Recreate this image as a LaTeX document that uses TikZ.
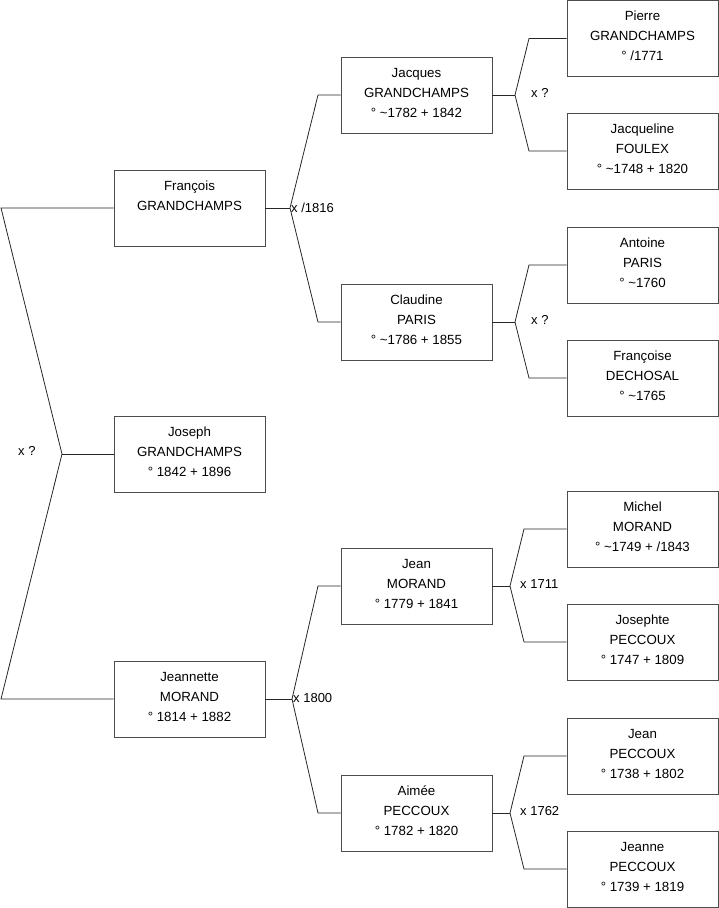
\documentclass[tikz,border=0pt]{standalone}
\usepackage{fontspec}
\setmainfont{Liberation Sans}
\newcommand{\person}[3]{\strut #1\\\strut #2\\\rule[-10pt]{0pt}{10pt}#3}
\begin{document}
\begin{tikzpicture}[x=1pt,y=-1pt,
  pbox/.style={draw=black!70,line width=0.9pt,minimum width=151pt,minimum height=76pt,inner sep=0pt,align=center,font=\fontsize{13.3}{20}\selectfont},
  link/.style={draw=black!85,line width=0.8pt},
  mlabel/.style={anchor=west,inner sep=0pt,font=\fontsize{13}{15}\selectfont}]
\useasboundingbox (0,0) rectangle (719,908);
% column 1
\node[pbox] (fr) at (189.5,208) {\person{François}{GRANDCHAMPS}{}};
\node[pbox] (jo) at (189.5,454) {\person{Joseph}{GRANDCHAMPS}{° 1842 + 1896}};
\node[pbox] (jm) at (189.5,699) {\person{Jeannette}{MORAND}{° 1814 + 1882}};
% column 2
\node[pbox] (jq) at (416.5,95) {\person{Jacques}{GRANDCHAMPS}{° \textasciitilde1782 + 1842}};
\node[pbox] (cl) at (416.5,322) {\person{Claudine}{PARIS}{° \textasciitilde1786 + 1855}};
\node[pbox] (jn) at (416.5,586) {\person{Jean}{MORAND}{° 1779 + 1841}};
\node[pbox] (ai) at (416.5,813) {\person{Aimée}{PECCOUX}{° 1782 + 1820}};
% column 3
\node[pbox] (pi) at (642.5,38.5) {\person{Pierre}{GRANDCHAMPS}{° /1771}};
\node[pbox] (jf) at (642.5,151) {\person{Jacqueline}{FOULEX}{° \textasciitilde1748 + 1820}};
\node[pbox] (an) at (642.5,265) {\person{Antoine}{PARIS}{° \textasciitilde1760}};
\node[pbox] (fd) at (642.5,378) {\person{Françoise}{DECHOSAL}{° \textasciitilde1765}};
\node[pbox] (mi) at (642.5,529) {\person{Michel}{MORAND}{° \textasciitilde1749 + /1843}};
\node[pbox] (js) at (642.5,642) {\person{Josephte}{PECCOUX}{° 1747 + 1809}};
\node[pbox] (jp) at (642.5,756) {\person{Jean}{PECCOUX}{° 1738 + 1802}};
\node[pbox] (je) at (642.5,869) {\person{Jeanne}{PECCOUX}{° 1739 + 1819}};
% bracket coordinates
\coordinate (v0) at (62,454);  \coordinate (t0) at (1,208);   \coordinate (b0) at (1,699);
\coordinate (v1) at (290,208); \coordinate (t1) at (318,95);  \coordinate (b1) at (318,322);
\coordinate (v2) at (292,699); \coordinate (t2) at (318,586); \coordinate (b2) at (318,813);
\coordinate (v3) at (515,95);  \coordinate (t3) at (529,38.5);\coordinate (b3) at (529,151);
\coordinate (v4) at (515,322); \coordinate (t4) at (529,265); \coordinate (b4) at (529,378);
\coordinate (v5) at (510,586); \coordinate (t5) at (524,529); \coordinate (b5) at (524,642);
\coordinate (v6) at (510,813); \coordinate (t6) at (524,756); \coordinate (b6) at (524,869);
% connectors
\draw[link] (fr.west) -- (t0) -- (v0) -- (b0) -- (jm.west);
\draw[link] (v0) -- (jo.west);
\draw[link] (jq.west) -- (t1) -- (v1) -- (b1) -- (cl.west);
\draw[link] (fr.east) -- (v1);
\draw[link] (jn.west) -- (t2) -- (v2) -- (b2) -- (ai.west);
\draw[link] (jm.east) -- (v2);
\draw[link] (pi.west) -- (t3) -- (v3) -- (b3) -- (jf.west);
\draw[link] (jq.east) -- (v3);
\draw[link] (an.west) -- (t4) -- (v4) -- (b4) -- (fd.west);
\draw[link] (cl.east) -- (v4);
\draw[link] (mi.west) -- (t5) -- (v5) -- (b5) -- (js.west);
\draw[link] (jn.east) -- (v5);
\draw[link] (jp.west) -- (t6) -- (v6) -- (b6) -- (je.west);
\draw[link] (ai.east) -- (v6);
% marriage labels
\node[mlabel] (l0) at (18,451) {x ?};
\node[mlabel] (l1) at (291,208) {x /1816};
\node[mlabel] (l2) at (293,698) {x 1800};
\node[mlabel] (l3) at (531,93) {x ?};
\node[mlabel] (l4) at (531,320) {x ?};
\node[mlabel] (l5) at (520,584) {x 1711};
\node[mlabel] (l6) at (520,811) {x 1762};
\end{tikzpicture}
\end{document}
